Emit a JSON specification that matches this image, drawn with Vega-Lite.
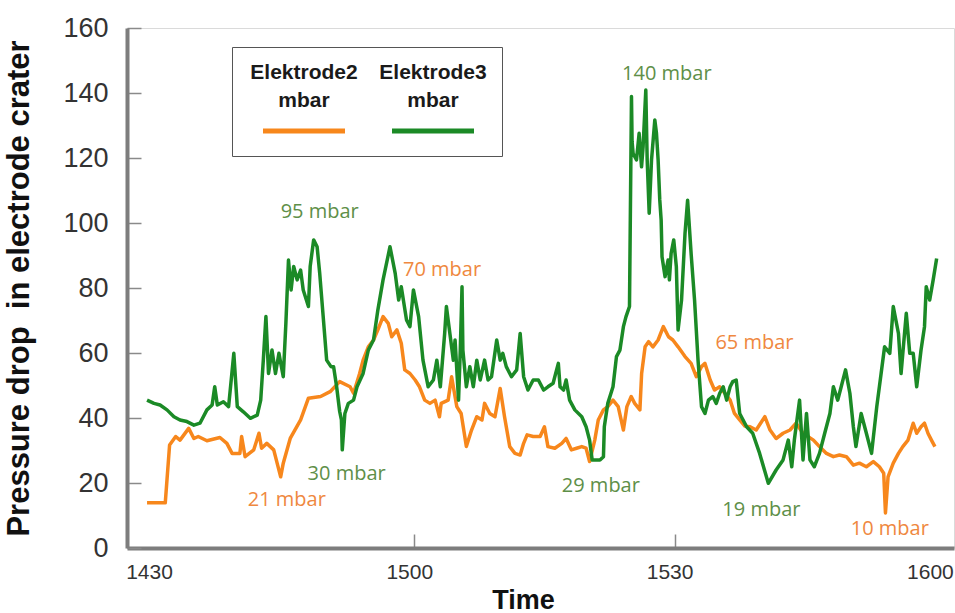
{
  "$schema": "https://vega.github.io/schema/vega-lite/v6.json",
  "autosize": {"type": "none"},
  "padding": {"left": 127, "top": 28, "right": 1, "bottom": 65},
  "width": 827,
  "height": 520,
  "background": "white",
  "config": {
    "font": "Liberation Sans",
    "view": {"stroke": "#dadada", "strokeWidth": 1},
    "axis": {"grid": false, "domainColor": "#7d7d7d", "domainWidth": 4, "tickColor": "#8a8a8a", "tickWidth": 1.5, "tickSize": -14, "labelColor": "#333333", "titleColor": "#111111", "titleFont": "Liberation Sans", "titleFontWeight": "bold", "labelFont": "Liberation Sans"}
  },
  "datasets": {
    "lines": [
      {"s":"E2","t":-0.8,"v":13.9},{"s":"E2","t":1.3,"v":13.9},{"s":"E2","t":1.8,"v":31.7},{"s":"E2","t":2.5,"v":34.3},{"s":"E2","t":3.0,"v":33.2},{"s":"E2","t":4.0,"v":36.8},{"s":"E2","t":4.6,"v":33.7},{"s":"E2","t":5.1,"v":34.3},{"s":"E2","t":6.1,"v":33.0},{"s":"E2","t":7.6,"v":34.0},{"s":"E2","t":8.4,"v":32.2},{"s":"E2","t":9.0,"v":29.1},{"s":"E2","t":9.9,"v":29.1},{"s":"E2","t":10.1,"v":34.3},{"s":"E2","t":10.5,"v":28.1},{"s":"E2","t":11.5,"v":30.2},{"s":"E2","t":12.1,"v":35.3},{"s":"E2","t":12.4,"v":30.7},{"s":"E2","t":13.0,"v":32.2},{"s":"E2","t":13.8,"v":30.2},{"s":"E2","t":14.6,"v":21.9},{"s":"E2","t":14.9,"v":26.1},{"s":"E2","t":15.7,"v":33.7},{"s":"E2","t":16.9,"v":39.4},{"s":"E2","t":17.8,"v":46.1},{"s":"E2","t":19.2,"v":46.6},{"s":"E2","t":20.3,"v":48.1},{"s":"E2","t":21.4,"v":51.2},{"s":"E2","t":22.6,"v":49.6},{"s":"E2","t":23.0,"v":47.6},{"s":"E2","t":23.7,"v":53.7},{"s":"E2","t":24.1,"v":57.8},{"s":"E2","t":24.7,"v":61.9},{"s":"E2","t":25.3,"v":64.0},{"s":"E2","t":25.8,"v":67.1},{"s":"E2","t":26.4,"v":71.2},{"s":"E2","t":27.0,"v":69.1},{"s":"E2","t":27.4,"v":65.0},{"s":"E2","t":28.0,"v":67.1},{"s":"E2","t":28.5,"v":63.0},{"s":"E2","t":28.9,"v":54.8},{"s":"E2","t":29.5,"v":53.7},{"s":"E2","t":30.1,"v":51.7},{"s":"E2","t":30.6,"v":49.6},{"s":"E2","t":31.2,"v":45.5},{"s":"E2","t":31.8,"v":44.5},{"s":"E2","t":32.4,"v":45.5},{"s":"E2","t":32.9,"v":40.4},{"s":"E2","t":33.1,"v":44.5},{"s":"E2","t":33.9,"v":45.5},{"s":"E2","t":34.3,"v":52.7},{"s":"E2","t":34.9,"v":43.5},{"s":"E2","t":35.4,"v":41.4},{"s":"E2","t":36.0,"v":31.2},{"s":"E2","t":36.6,"v":36.3},{"s":"E2","t":37.2,"v":40.4},{"s":"E2","t":37.8,"v":39.4},{"s":"E2","t":38.1,"v":44.5},{"s":"E2","t":38.7,"v":41.4},{"s":"E2","t":39.3,"v":40.4},{"s":"E2","t":39.9,"v":49.1},{"s":"E2","t":40.4,"v":40.4},{"s":"E2","t":41.0,"v":31.2},{"s":"E2","t":41.6,"v":29.1},{"s":"E2","t":42.2,"v":28.6},{"s":"E2","t":42.6,"v":32.2},{"s":"E2","t":43.0,"v":34.8},{"s":"E2","t":43.7,"v":34.3},{"s":"E2","t":44.5,"v":34.3},{"s":"E2","t":45.0,"v":37.3},{"s":"E2","t":45.4,"v":31.2},{"s":"E2","t":46.2,"v":30.7},{"s":"E2","t":47.0,"v":32.2},{"s":"E2","t":47.5,"v":33.7},{"s":"E2","t":48.1,"v":30.2},{"s":"E2","t":48.7,"v":30.7},{"s":"E2","t":49.3,"v":31.2},{"s":"E2","t":49.8,"v":30.7},{"s":"E2","t":50.2,"v":26.6},{"s":"E2","t":50.8,"v":33.2},{"s":"E2","t":51.2,"v":39.4},{"s":"E2","t":51.8,"v":42.5},{"s":"E2","t":52.3,"v":43.5},{"s":"E2","t":52.9,"v":45.5},{"s":"E2","t":53.5,"v":43.5},{"s":"E2","t":54.1,"v":36.3},{"s":"E2","t":54.5,"v":43.5},{"s":"E2","t":55.0,"v":46.6},{"s":"E2","t":55.4,"v":44.5},{"s":"E2","t":56.0,"v":42.5},{"s":"E2","t":56.2,"v":53.7},{"s":"E2","t":56.6,"v":61.9},{"s":"E2","t":57.0,"v":63.5},{"s":"E2","t":57.5,"v":61.9},{"s":"E2","t":58.1,"v":64.0},{"s":"E2","t":58.7,"v":68.1},{"s":"E2","t":59.3,"v":65.0},{"s":"E2","t":59.8,"v":64.0},{"s":"E2","t":60.4,"v":61.9},{"s":"E2","t":61.2,"v":58.9},{"s":"E2","t":61.9,"v":56.8},{"s":"E2","t":62.5,"v":52.7},{"s":"E2","t":63.1,"v":55.8},{"s":"E2","t":63.5,"v":56.8},{"s":"E2","t":64.1,"v":51.7},{"s":"E2","t":64.6,"v":48.6},{"s":"E2","t":65.2,"v":49.6},{"s":"E2","t":65.8,"v":47.6},{"s":"E2","t":66.4,"v":45.5},{"s":"E2","t":66.9,"v":41.4},{"s":"E2","t":67.5,"v":39.4},{"s":"E2","t":68.1,"v":37.5},{"s":"E2","t":68.7,"v":37.3},{"s":"E2","t":69.4,"v":36.3},{"s":"E2","t":70.4,"v":40.4},{"s":"E2","t":71.0,"v":36.3},{"s":"E2","t":71.7,"v":33.7},{"s":"E2","t":72.5,"v":35.3},{"s":"E2","t":73.3,"v":36.3},{"s":"E2","t":74.0,"v":38.4},{"s":"E2","t":74.8,"v":35.3},{"s":"E2","t":76.0,"v":33.2},{"s":"E2","t":76.7,"v":31.2},{"s":"E2","t":77.5,"v":29.1},{"s":"E2","t":78.3,"v":28.1},{"s":"E2","t":79.0,"v":28.6},{"s":"E2","t":79.8,"v":28.1},{"s":"E2","t":80.6,"v":25.5},{"s":"E2","t":81.3,"v":26.1},{"s":"E2","t":82.1,"v":25.0},{"s":"E2","t":82.9,"v":26.6},{"s":"E2","t":83.6,"v":25.0},{"s":"E2","t":84.1,"v":23.0},{"s":"E2","t":84.3,"v":10.8},{"s":"E2","t":84.6,"v":21.9},{"s":"E2","t":85.2,"v":26.1},{"s":"E2","t":85.8,"v":29.1},{"s":"E2","t":86.3,"v":31.2},{"s":"E2","t":86.9,"v":33.2},{"s":"E2","t":87.5,"v":38.4},{"s":"E2","t":87.9,"v":35.3},{"s":"E2","t":88.4,"v":37.3},{"s":"E2","t":88.8,"v":38.4},{"s":"E2","t":89.2,"v":35.3},{"s":"E2","t":89.6,"v":33.2},{"s":"E2","t":90.0,"v":31.2},
      {"s":"E3","t":-0.8,"v":45.5},{"s":"E3","t":0.0,"v":44.5},{"s":"E3","t":0.7,"v":44.0},{"s":"E3","t":1.5,"v":42.5},{"s":"E3","t":2.3,"v":40.4},{"s":"E3","t":3.0,"v":39.4},{"s":"E3","t":3.8,"v":38.9},{"s":"E3","t":4.6,"v":37.8},{"s":"E3","t":5.3,"v":38.4},{"s":"E3","t":6.1,"v":42.5},{"s":"E3","t":6.7,"v":44.0},{"s":"E3","t":7.0,"v":49.6},{"s":"E3","t":7.3,"v":44.0},{"s":"E3","t":8.0,"v":45.0},{"s":"E3","t":8.6,"v":43.5},{"s":"E3","t":9.2,"v":59.9},{"s":"E3","t":9.6,"v":43.5},{"s":"E3","t":10.3,"v":41.9},{"s":"E3","t":11.1,"v":39.9},{"s":"E3","t":11.9,"v":40.9},{"s":"E3","t":12.3,"v":45.5},{"s":"E3","t":12.6,"v":57.8},{"s":"E3","t":12.9,"v":71.2},{"s":"E3","t":13.2,"v":53.7},{"s":"E3","t":13.6,"v":60.9},{"s":"E3","t":14.0,"v":53.7},{"s":"E3","t":14.4,"v":59.9},{"s":"E3","t":14.9,"v":52.7},{"s":"E3","t":15.2,"v":69.1},{"s":"E3","t":15.5,"v":88.6},{"s":"E3","t":15.8,"v":79.4},{"s":"E3","t":16.1,"v":86.6},{"s":"E3","t":16.5,"v":82.5},{"s":"E3","t":16.9,"v":85.5},{"s":"E3","t":17.2,"v":79.4},{"s":"E3","t":17.8,"v":74.3},{"s":"E3","t":18.0,"v":86.6},{"s":"E3","t":18.4,"v":94.8},{"s":"E3","t":18.8,"v":92.7},{"s":"E3","t":19.1,"v":84.5},{"s":"E3","t":19.5,"v":71.2},{"s":"E3","t":19.9,"v":57.8},{"s":"E3","t":20.4,"v":55.8},{"s":"E3","t":20.7,"v":55.8},{"s":"E3","t":21.05,"v":49.6},{"s":"E3","t":21.4,"v":42.0},{"s":"E3","t":21.6,"v":39.4},{"s":"E3","t":21.7,"v":30.2},{"s":"E3","t":22.0,"v":41.4},{"s":"E3","t":22.4,"v":44.5},{"s":"E3","t":23.0,"v":45.5},{"s":"E3","t":23.4,"v":49.6},{"s":"E3","t":24.1,"v":53.7},{"s":"E3","t":24.7,"v":60.9},{"s":"E3","t":25.3,"v":64.0},{"s":"E3","t":25.8,"v":73.2},{"s":"E3","t":26.4,"v":82.5},{"s":"E3","t":27.2,"v":92.7},{"s":"E3","t":27.8,"v":84.5},{"s":"E3","t":28.2,"v":76.3},{"s":"E3","t":28.5,"v":80.4},{"s":"E3","t":29.1,"v":70.2},{"s":"E3","t":29.5,"v":68.1},{"s":"E3","t":29.9,"v":79.4},{"s":"E3","t":30.5,"v":71.2},{"s":"E3","t":31.0,"v":57.8},{"s":"E3","t":31.6,"v":49.6},{"s":"E3","t":32.2,"v":51.7},{"s":"E3","t":32.6,"v":57.8},{"s":"E3","t":33.0,"v":49.6},{"s":"E3","t":33.5,"v":66.0},{"s":"E3","t":33.7,"v":74.3},{"s":"E3","t":34.1,"v":66.0},{"s":"E3","t":34.5,"v":57.8},{"s":"E3","t":34.7,"v":64.0},{"s":"E3","t":35.1,"v":45.5},{"s":"E3","t":35.3,"v":60.9},{"s":"E3","t":35.5,"v":80.4},{"s":"E3","t":35.6,"v":60.9},{"s":"E3","t":36.0,"v":49.6},{"s":"E3","t":36.4,"v":55.8},{"s":"E3","t":36.8,"v":49.6},{"s":"E3","t":37.2,"v":57.8},{"s":"E3","t":37.6,"v":51.7},{"s":"E3","t":38.1,"v":57.8},{"s":"E3","t":38.5,"v":51.7},{"s":"E3","t":38.9,"v":52.7},{"s":"E3","t":39.5,"v":64.0},{"s":"E3","t":39.9,"v":57.8},{"s":"E3","t":40.2,"v":59.9},{"s":"E3","t":40.6,"v":55.8},{"s":"E3","t":41.2,"v":52.7},{"s":"E3","t":41.8,"v":54.8},{"s":"E3","t":42.2,"v":66.0},{"s":"E3","t":42.6,"v":52.7},{"s":"E3","t":43.1,"v":48.6},{"s":"E3","t":43.7,"v":51.7},{"s":"E3","t":44.3,"v":51.7},{"s":"E3","t":44.9,"v":48.6},{"s":"E3","t":45.4,"v":49.6},{"s":"E3","t":46.0,"v":50.7},{"s":"E3","t":46.4,"v":54.8},{"s":"E3","t":46.6,"v":56.8},{"s":"E3","t":46.8,"v":49.6},{"s":"E3","t":47.2,"v":48.6},{"s":"E3","t":47.5,"v":51.7},{"s":"E3","t":47.9,"v":45.5},{"s":"E3","t":48.5,"v":42.5},{"s":"E3","t":49.3,"v":40.4},{"s":"E3","t":49.8,"v":37.3},{"s":"E3","t":50.2,"v":33.2},{"s":"E3","t":50.5,"v":27.1},{"s":"E3","t":51.4,"v":27.1},{"s":"E3","t":51.8,"v":28.1},{"s":"E3","t":51.9,"v":37.3},{"s":"E3","t":52.3,"v":44.5},{"s":"E3","t":52.9,"v":49.6},{"s":"E3","t":53.3,"v":58.9},{"s":"E3","t":53.7,"v":60.9},{"s":"E3","t":54.1,"v":68.1},{"s":"E3","t":54.4,"v":71.2},{"s":"E3","t":54.8,"v":74.3},{"s":"E3","t":55.03,"v":138.9},{"s":"E3","t":55.1,"v":125.0},{"s":"E3","t":55.22,"v":121.4},{"s":"E3","t":55.61,"v":119.4},{"s":"E3","t":55.91,"v":127.6},{"s":"E3","t":56.19,"v":117.3},{"s":"E3","t":56.37,"v":123.5},{"s":"E3","t":56.68,"v":140.9},{"s":"E3","t":56.84,"v":119.4},{"s":"E3","t":57.07,"v":103.0},{"s":"E3","t":57.34,"v":119.4},{"s":"E3","t":57.72,"v":131.7},{"s":"E3","t":57.91,"v":127.6},{"s":"E3","t":58.1,"v":119.4},{"s":"E3","t":58.29,"v":107.1},{"s":"E3","t":58.45,"v":100.9},{"s":"E3","t":58.55,"v":89.6},{"s":"E3","t":58.9,"v":83.5},{"s":"E3","t":59.25,"v":88.6},{"s":"E3","t":59.4,"v":82.5},{"s":"E3","t":59.6,"v":90.7},{"s":"E3","t":59.9,"v":94.8},{"s":"E3","t":60.2,"v":86.6},{"s":"E3","t":60.4,"v":67.1},{"s":"E3","t":60.8,"v":76.3},{"s":"E3","t":61.2,"v":96.8},{"s":"E3","t":61.5,"v":107.0},{"s":"E3","t":61.9,"v":90.7},{"s":"E3","t":62.3,"v":76.3},{"s":"E3","t":62.7,"v":57.8},{"s":"E3","t":63.1,"v":43.5},{"s":"E3","t":63.5,"v":41.4},{"s":"E3","t":63.9,"v":45.5},{"s":"E3","t":64.4,"v":46.6},{"s":"E3","t":64.8,"v":44.5},{"s":"E3","t":65.2,"v":47.6},{"s":"E3","t":65.6,"v":49.6},{"s":"E3","t":66.0,"v":45.5},{"s":"E3","t":66.4,"v":49.6},{"s":"E3","t":66.7,"v":51.2},{"s":"E3","t":67.1,"v":51.7},{"s":"E3","t":67.5,"v":41.4},{"s":"E3","t":68.3,"v":37.3},{"s":"E3","t":69.0,"v":35.3},{"s":"E3","t":69.8,"v":29.1},{"s":"E3","t":70.8,"v":19.9},{"s":"E3","t":71.7,"v":24.0},{"s":"E3","t":72.5,"v":27.1},{"s":"E3","t":73.1,"v":33.2},{"s":"E3","t":73.5,"v":25.0},{"s":"E3","t":73.8,"v":33.2},{"s":"E3","t":74.4,"v":45.5},{"s":"E3","t":74.8,"v":27.1},{"s":"E3","t":75.2,"v":41.4},{"s":"E3","t":75.6,"v":27.1},{"s":"E3","t":76.1,"v":25.0},{"s":"E3","t":76.7,"v":29.1},{"s":"E3","t":77.3,"v":35.3},{"s":"E3","t":77.9,"v":41.4},{"s":"E3","t":78.3,"v":49.6},{"s":"E3","t":78.8,"v":45.5},{"s":"E3","t":79.2,"v":49.6},{"s":"E3","t":79.7,"v":54.8},{"s":"E3","t":80.2,"v":47.6},{"s":"E3","t":80.6,"v":37.3},{"s":"E3","t":80.9,"v":31.2},{"s":"E3","t":81.5,"v":41.4},{"s":"E3","t":82.1,"v":35.3},{"s":"E3","t":82.7,"v":29.1},{"s":"E3","t":83.3,"v":43.5},{"s":"E3","t":83.8,"v":53.7},{"s":"E3","t":84.2,"v":61.9},{"s":"E3","t":84.8,"v":59.9},{"s":"E3","t":85.2,"v":74.3},{"s":"E3","t":85.8,"v":66.0},{"s":"E3","t":86.1,"v":53.7},{"s":"E3","t":86.7,"v":72.2},{"s":"E3","t":87.1,"v":59.9},{"s":"E3","t":87.5,"v":59.9},{"s":"E3","t":87.9,"v":49.6},{"s":"E3","t":88.4,"v":60.9},{"s":"E3","t":88.8,"v":68.1},{"s":"E3","t":89.0,"v":80.4},{"s":"E3","t":89.4,"v":76.3},{"s":"E3","t":89.8,"v":82.5},{"s":"E3","t":90.2,"v":89.1}
    ],
    "notes": [
      {"s":"E3","t":19.1,"v":103.4,"label":"95 mbar"},
      {"s":"E2","t":33.2,"v":85.5,"label":"70 mbar"},
      {"s":"E3","t":59.1,"v":145.8,"label":"140 mbar"},
      {"s":"E2","t":69.2,"v":63.0,"label":"65 mbar"},
      {"s":"E3","t":22.2,"v":22.8,"label":"30 mbar"},
      {"s":"E2","t":15.3,"v":14.8,"label":"21 mbar"},
      {"s":"E3","t":51.5,"v":19.2,"label":"29 mbar"},
      {"s":"E3","t":70.0,"v":11.7,"label":"19 mbar"},
      {"s":"E2","t":84.8,"v":5.8,"label":"10 mbar"}
    ]
  },
  "layer": [
    {
      "data": {"name": "lines"},
      "mark": {"type": "line", "strokeWidth": 3.5, "strokeJoin": "round"},
      "encoding": {
        "x": {
          "field": "t", "type": "quantitative",
          "scale": {"domain": [-3.11, 92.2], "nice": false, "zero": false},
          "axis": {
            "title": "Time", "titleFontSize": 27, "titleX": 396, "titlePadding": 5,
            "values": [0, 30, 60, 90],
            "labelExpr": "datum.value == 0 ? '1430' : datum.value == 30 ? '1500' : datum.value == 60 ? '1530' : '1600'",
            "labelFontSize": 21, "labelPadding": 27, "labelOffset": -5, "labelFlush": false,
            "tickOpacity": {"condition": {"test": "datum.value == 30 || datum.value == 60", "value": 1}, "value": 0}
          }
        },
        "y": {
          "field": "v", "type": "quantitative",
          "scale": {"domain": [0, 160], "nice": false},
          "axis": {
            "title": "Pressure drop\u00a0 in electrode crater", "titleFontSize": 31, "titlePadding": 27,
            "values": [0, 20, 40, 60, 80, 100, 120, 140, 160],
            "labelFontSize": 27, "labelPadding": 33
          }
        },
        "color": {
          "field": "s", "type": "nominal",
          "scale": {"domain": ["E2", "E3"], "range": ["#f7871c", "#1b8a26"]},
          "legend": {
            "orient": "none", "legendX": 105, "legendY": 19, "direction": "horizontal", "title": null,
            "symbolType": "stroke", "symbolSize": 6724, "symbolStrokeWidth": 5,
            "labelExpr": "datum.label == 'E2' ? ['Elektrode2','mbar',''] : ['Elektrode3','mbar','']",
            "labelFont": "Liberation Sans", "labelFontSize": 21, "labelFontWeight": "bold", "labelColor": "#1a1a1a",
            "labelAlign": "center", "labelBaseline": "top",
            "padding": 15, "strokeColor": "#555555", "fillColor": "#ffffff", "columnPadding": 18,
            "encode": {
              "labels": {"update": {"lineHeight": {"value": 28}, "x": {"value": 57}, "y": {"value": 0}}},
              "symbols": {"update": {"x": {"value": 57}, "y": {"value": 69}}}
            }
          }
        }
      }
    },
    {
      "mark": {"type": "rule", "color": "#808080", "strokeWidth": 4},
      "encoding": {"y": {"datum": 160}}
    },
    {
      "data": {"name": "notes"},
      "mark": {"type": "text", "font": "Open Sans", "fontSize": 20, "align": "center", "baseline": "middle"},
      "encoding": {
        "x": {"field": "t", "type": "quantitative"},
        "y": {"field": "v", "type": "quantitative"},
        "text": {"field": "label"},
        "color": {"condition": {"test": "datum.s === 'E3'", "value": "#5e8f48"}, "value": "#ef8840"}
      }
    }
  ]
}
